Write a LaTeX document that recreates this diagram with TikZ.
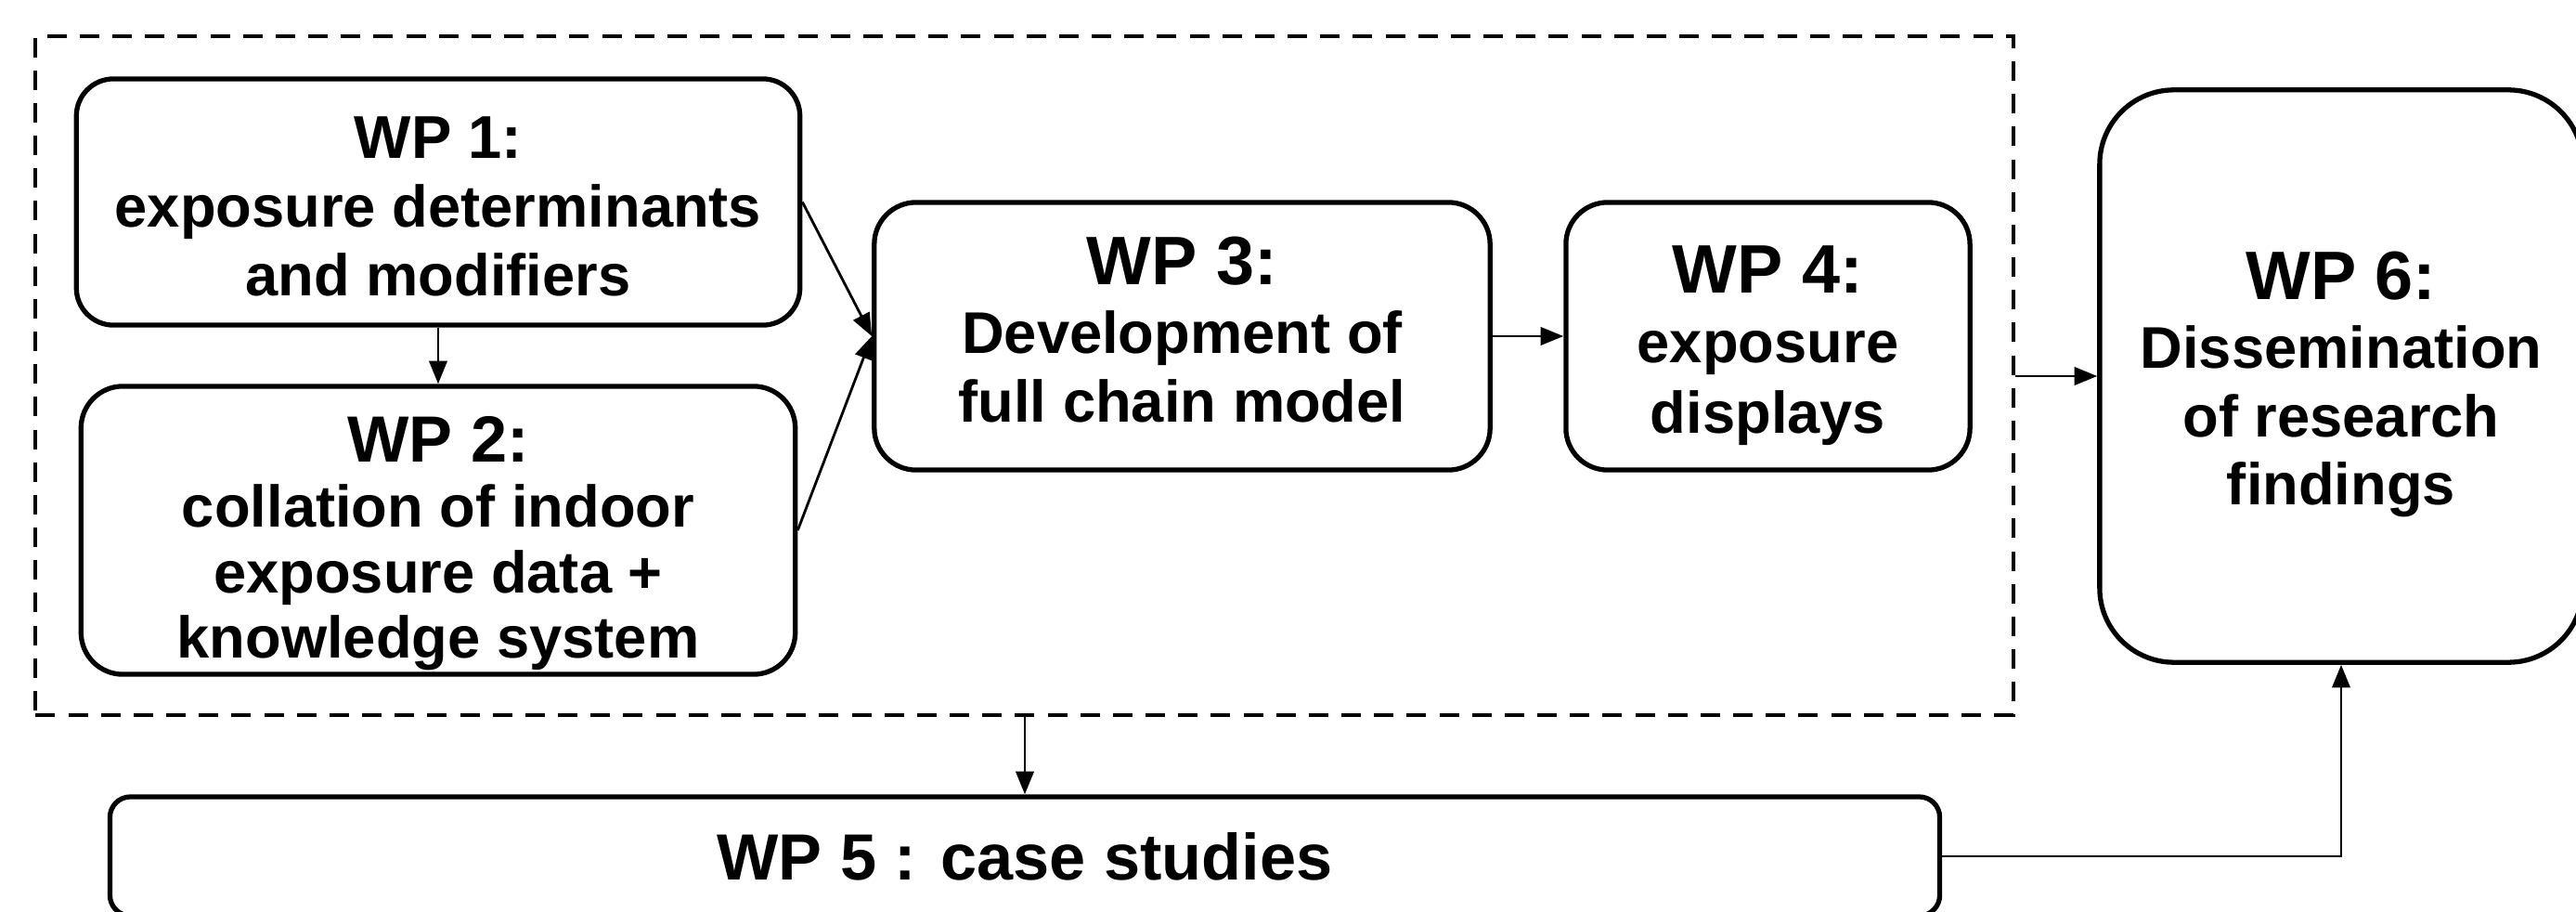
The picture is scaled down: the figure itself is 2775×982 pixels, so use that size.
\documentclass[tikz,border=0pt]{standalone}
\usepackage{fontspec}
\setmainfont{Liberation Sans}
\usetikzlibrary{arrows.meta}
\tikzset{
  wpbox/.style={draw, line width=1.5pt, inner sep=0pt},
  wptext/.style={align=center, inner sep=0pt,
    font=\fontsize{18pt}{21pt}\selectfont\bfseries},
  grpbox/.style={draw, line width=1.2pt, dash pattern=on 6pt off 4pt, inner sep=0pt},
  conn/.style={line width=0.8pt, -{Triangle[length=7pt,width=5.5pt]}},
}
\newcommand{\wptitle}[2]{{\fontsize{#1}{#1}\selectfont #2}}
\begin{document}
\begin{tikzpicture}[x=0.01cm, y=-0.01cm]
\useasboundingbox (0,0) rectangle (2775,982);
\node[grpbox, minimum width=21.29cm, minimum height=7.31cm] (grp) at (1103.5,404.5) {};
\node[wpbox, rounded corners=0.4cm, minimum width=7.79cm, minimum height=2.65cm] (wp1) at (472,217.5) {};
\node[wpbox, rounded corners=0.45cm, minimum width=7.69cm, minimum height=3.10cm] (wp2) at (472,571) {};
\node[wpbox, rounded corners=0.45cm, minimum width=6.63cm, minimum height=2.88cm] (wp3) at (1273.5,362) {};
\node[wpbox, rounded corners=0.45cm, minimum width=4.35cm, minimum height=2.88cm] (wp4) at (1904.5,362) {};
\node[wpbox, rounded corners=0.8cm, minimum width=5.20cm, minimum height=6.16cm] (wp6) at (2522,405) {};
\node[wpbox, rounded corners=0.22cm, minimum width=19.70cm, minimum height=1.28cm] (wp5) at (1104,922) {};
\node[wptext] (wp1t) at ([yshift=-0.05cm]wp1.center)
  {\wptitle{18.5pt}{WP 1:}\\exposure determinants\\and modifiers};
\node[wptext, font=\fontsize{18pt}{20pt}\selectfont\bfseries] (wp2t) at ([yshift=-0.14cm]wp2.center)
  {\wptitle{20pt}{WP 2:}\\collation of indoor\\exposure data +\\knowledge system};
\node[wptext] (wp3t) at ([yshift=0.07cm]wp3.center)
  {\wptitle{21pt}{WP 3:}\\Development of\\full chain model};
\node[wptext, font=\fontsize{18pt}{21.5pt}\selectfont\bfseries] (wp4t) at ([yshift=-0.10cm]wp4.center)
  {\wptitle{21pt}{WP 4:}\\exposure\\displays};
\node[wptext] (wp6t) at ([yshift=-0.09cm]wp6.center)
  {\wptitle{21pt}{WP 6:}\\Dissemination\\of research\\findings};
\node[wptext] (wp5t) at (wp5.center) {\wptitle{20pt}{WP 5 : case studies}};
\draw[conn] (wp1.south) -- (wp2.north);
\draw[conn] (wp1.east) -- (wp3.west);
\draw[conn] (wp2.east) -- (wp3.west);
\draw[conn] (wp3.east) -- (wp4.west);
\draw[conn] (grp.east |- wp6.west) -- (wp6.west);
\draw[conn] (grp.south -| wp5.north) -- (wp5.north);
\draw[conn] (wp5.east) -| (wp6.south);
\end{tikzpicture}
\end{document}
